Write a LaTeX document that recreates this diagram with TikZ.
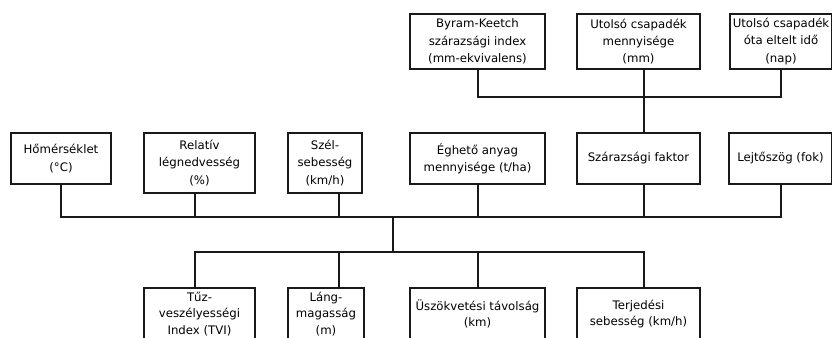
\documentclass[tikz,border=0pt]{standalone}
\usepackage{fontspec}
\setmainfont{DejaVu Sans}
\usetikzlibrary{positioning, calc}
\colorlet{vonalColor}{black!90}
\tikzstyle{doboz}=[rectangle, draw=vonalColor, line width=1.5pt, align=center,
inner sep=1pt, anchor=north west, font=\fontsize{8.8}{13}\selectfont]
\tikzstyle{alsodoboz}=[doboz, font=\fontsize{8.8}{12.2}\selectfont]
\tikzstyle{vonal}=[line width=1.5pt, draw=vonalColor]
\tikzset{bw/.style={minimum width=#1*0.75pt}, bh/.style={minimum height=#1*0.75pt}}

\begin{document}
\begin{tikzpicture}[x=0.75pt, y=-0.75pt]
  \useasboundingbox (0,0) rectangle (832,337);
  \clip (0,0) rectangle (832,337);
  % felso sor
  \node(bki) [doboz, bw=135, bh=55] at (409,13) {Byram-Keetch\\szárazsági index\\(mm-ekvivalens)};
  \node(csapmenny) [doboz, bw=123, bh=55] at (576,13) {Utolsó csapadék\\mennyisége\\(mm)};
  \node(csapido) [doboz, bw=102, bh=55] at (729,13) {Utolsó csapadék\\óta eltelt idő\\(nap)};
  % kozepso sor
  \node(homers) [doboz, bw=100, bh=51] at (10,132) {Hőmérséklet\\(°C)};
  \node(relpar) [doboz, bw=111, bh=60] at (143,132) {Relatív\\légnedvesség\\(\%)};
  \node(szel) [doboz, bw=74, bh=60] at (287,132) {Szél-\\sebesség\\(km/h)};
  \node(eghet) [doboz, bw=135, bh=51] at (409,132) {Éghető anyag\\mennyisége (t/ha)};
  \node(szarfakt) [doboz, bw=123, bh=51] at (576,132) {Szárazsági faktor};
  \node(lejto) [doboz, bw=103, bh=51] at (728,132) {Lejtőszög (fok)};
  % also sor
  \node(tvi) [alsodoboz, bw=111, bh=52] at (143,287) {Tűz-\\veszélyességi\\Index (TVI)};
  \node(lang) [alsodoboz, bw=76, bh=52] at (287,287) {Láng-\\magasság\\(m)};
  \node(uszok) [alsodoboz, bw=135, bh=52] at (409,287) {Üszökvetési távolság\\(km)};
  \node(terj) [alsodoboz, bw=123, bh=52] at (576,287) {Terjedési\\sebesség (km/h)};
  % sinek
  \coordinate (felsosin) at (643,97);
  \coordinate (kozepsin) at (393,217);
  \coordinate (alsosin) at (393,252);
  \path (csapmenny.south) ++(5.5,0) coordinate (csapmenny-ki);
  \path (szarfakt.north) ++(5.5,0) coordinate (szarfakt-be);
  \path (szarfakt.south) ++(5.5,0) coordinate (szarfakt-ki);
  \path (relpar.south) ++(-4.5,0) coordinate (relpar-ki);
  \path (szel.south) ++(14,0) coordinate (szel-ki);
  \path (tvi.north) ++(-4.5,0) coordinate (tvi-be);
  \path (lang.north) ++(13,0) coordinate (lang-be);
  \path (terj.north) ++(5.5,0) coordinate (terj-be);
  \draw [vonal] (bki.south) |- (felsosin) -| (csapido.south);
  \draw [vonal] (csapmenny-ki) -- (szarfakt-be);
  \draw [vonal] (homers.south) |- (kozepsin) -| (lejto.south);
  \foreach \n in {relpar-ki, szel-ki, eghet.south, szarfakt-ki}
    \draw [vonal] (\n) -- (\n |- kozepsin);
  \draw [vonal] (kozepsin) -- (alsosin);
  \draw [vonal] (tvi-be) |- (alsosin) -| (terj-be);
  \foreach \n in {lang-be, uszok.north}
    \draw [vonal] (\n) -- (\n |- alsosin);
\end{tikzpicture}
\end{document}
